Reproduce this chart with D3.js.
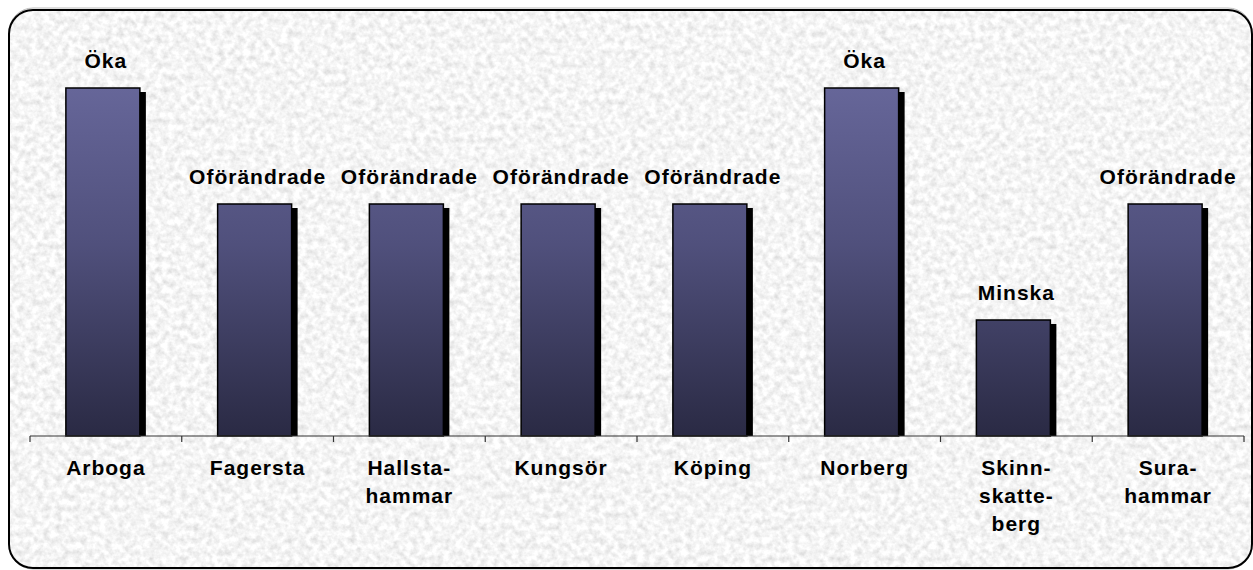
<!DOCTYPE html>
<html>
<head>
<meta charset="utf-8">
<script src="https://cdn.jsdelivr.net/npm/d3@7"></script>
<style>
  body { margin: 0; background: #fff; }
  svg { display: block; }
  .lbl { font-family: "Liberation Sans", Arial, sans-serif; font-weight: bold; font-size: 21px; letter-spacing: 1px; fill: #000; }
</style>
</head>
<body>
<div id="chart"></div>
<script>
// data
const categories = ['Arboga', 'Fagersta', 'Hallsta-\nhammar', 'Kungsör', 'Köping', 'Norberg', 'Skinn-\nskatte-\nberg', 'Sura-\nhammar'];
const values = [3, 2, 2, 2, 2, 3, 1, 2];
const valueLabels = ['Öka', 'Oförändrade', 'Oförändrade', 'Oförändrade', 'Oförändrade', 'Öka', 'Minska', 'Oförändrade'];

const WIDTH = 1253, HEIGHT = 570;
const BASE = 436, TOP = 88;

const svg = d3.select('#chart').append('svg')
  .attr('width', WIDTH)
  .attr('height', HEIGHT);

const defs = svg.append('defs');

// granite-ish paper texture
const f = defs.append('filter').attr('id', 'stone')
  .attr('x', 0).attr('y', 0).attr('width', '100%').attr('height', '100%');
f.append('feTurbulence')
  .attr('type', 'fractalNoise')
  .attr('baseFrequency', 0.16)
  .attr('numOctaves', 3)
  .attr('seed', 7);
f.append('feColorMatrix')
  .attr('type', 'matrix')
  .attr('values', '0.5 0 0 0 0.66  0.5 0 0 0 0.66  0.5 0 0 0 0.66  0 0 0 0 1');

const grad = defs.append('linearGradient').attr('id', 'barFill')
  .attr('x1', 0).attr('x2', 0)
  .attr('gradientUnits', 'userSpaceOnUse')
  .attr('y1', TOP).attr('y2', BASE);
grad.append('stop').attr('offset', 0).attr('stop-color', '#666699');
grad.append('stop').attr('offset', 0.45).attr('stop-color', '#50507c');
grad.append('stop').attr('offset', 1).attr('stop-color', '#2a2a44');

defs.append('clipPath').attr('id', 'frameClip')
  .append('rect')
  .attr('x', 9).attr('y', 10)
  .attr('width', 1243).attr('height', 558)
  .attr('rx', 24).attr('ry', 24);

// frame shadow + textured background + border
svg.append('rect')
  .attr('x', 9).attr('y', 8)
  .attr('width', 1243).attr('height', 561)
  .attr('rx', 24).attr('ry', 24)
  .attr('fill', 'none')
  .attr('stroke', '#bbb')
  .attr('stroke-width', 1);

svg.append('rect')
  .attr('x', 9).attr('y', 10)
  .attr('width', 1243).attr('height', 558)
  .attr('clip-path', 'url(#frameClip)')
  .attr('filter', 'url(#stone)');

svg.append('rect')
  .attr('x', 9).attr('y', 10)
  .attr('width', 1243).attr('height', 558)
  .attr('rx', 24).attr('ry', 24)
  .attr('fill', 'none')
  .attr('stroke', '#000')
  .attr('stroke-width', 2);

// scales
const x = d3.scaleBand()
  .domain(categories)
  .range([30, 1244])
  .padding(0);

const y = d3.scaleLinear()
  .domain([0, 3])
  .range([BASE, TOP]);

const barW = 74, shadow = 6;
const barX = d => x(d) + (x.bandwidth() - barW - shadow) / 2;

const data = categories.map((c, i) => ({ cat: c, value: values[i], label: valueLabels[i] }));

// bar shadows
svg.append('g').selectAll('rect')
  .data(data)
  .join('rect')
  .attr('x', d => barX(d.cat) + shadow)
  .attr('y', d => y(d.value) + 4)
  .attr('width', barW)
  .attr('height', d => BASE - y(d.value) - 4)
  .attr('fill', '#000');

// bars
svg.append('g').selectAll('rect')
  .data(data)
  .join('rect')
  .attr('x', d => barX(d.cat))
  .attr('y', d => y(d.value))
  .attr('width', barW)
  .attr('height', d => BASE - y(d.value))
  .attr('fill', 'url(#barFill)')
  .attr('stroke', '#000')
  .attr('stroke-width', 1.5);

// x axis
const axis = svg.append('g').attr('transform', `translate(0,${BASE})`);
axis.append('line')
  .attr('x1', x.range()[0]).attr('x2', x.range()[1])
  .attr('stroke', '#333').attr('stroke-width', 1.2);
const ticks = categories.map(c => x(c)).concat([x.range()[1]]);
axis.selectAll('.tk')
  .data(ticks)
  .join('line')
  .attr('class', 'tk')
  .attr('x1', d => d).attr('x2', d => d)
  .attr('y1', 0).attr('y2', 6)
  .attr('stroke', '#333').attr('stroke-width', 1.2);

// category labels
svg.append('g').selectAll('text')
  .data(data)
  .join('text')
  .attr('class', 'lbl')
  .attr('text-anchor', 'middle')
  .attr('x', d => x(d.cat) + x.bandwidth() / 2)
  .attr('y', 475)
  .each(function (d) {
    const t = d3.select(this);
    d.cat.split('\n').forEach((line, i) => {
      t.append('tspan')
        .attr('x', x(d.cat) + x.bandwidth() / 2)
        .attr('dy', i === 0 ? 0 : 28)
        .text(line);
    });
  });

// value labels
svg.append('g').selectAll('text')
  .data(data)
  .join('text')
  .attr('class', 'lbl')
  .attr('text-anchor', 'middle')
  .attr('x', d => x(d.cat) + x.bandwidth() / 2)
  .attr('y', d => y(d.value) - 20)
  .text(d => d.label);
</script>
</body>
</html>
